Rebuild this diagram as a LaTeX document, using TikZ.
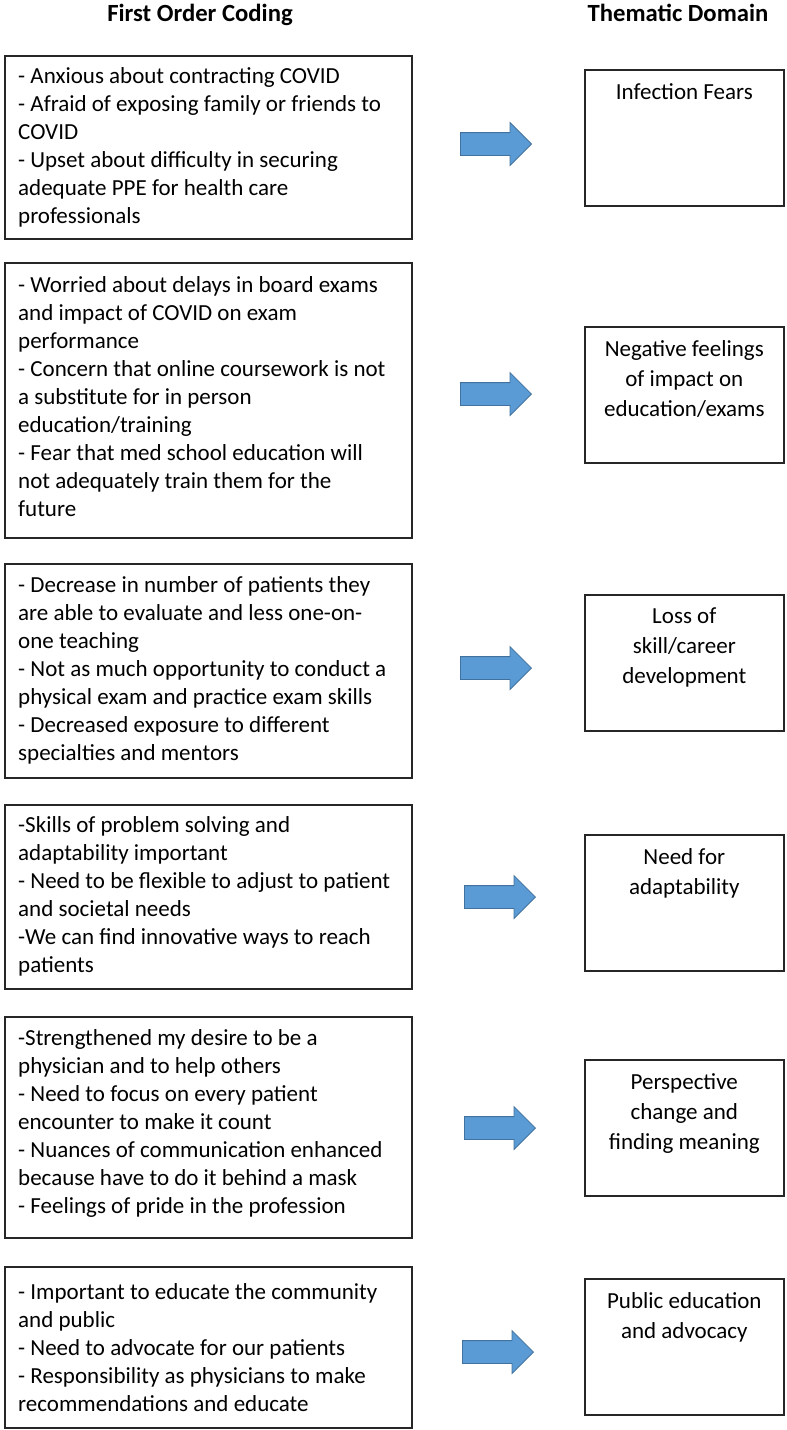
\documentclass[tikz,border=0pt]{standalone}
\usepackage{fontspec}
\setmainfont{Carlito}
\usetikzlibrary{shapes.arrows}
\definecolor{arrowblue}{HTML}{5B9BD5}
\definecolor{arrowedge}{HTML}{41719C}

\begin{document}
\begin{tikzpicture}[x=1pt,y=-1pt,
  heading/.style={anchor=base,font=\fontsize{24.7}{30}\selectfont\bfseries},
  codingbox/.style={draw=black!85,line width=1.6pt,anchor=north west,minimum width=407pt,inner sep=0pt},
  codingtext/.style={anchor=west,inner sep=0pt,align=left,font=\fontsize{23}{28}\selectfont},
  theme/.style={draw=black!85,line width=1.6pt,anchor=north west,minimum width=199pt,minimum height=136pt,inner sep=0pt},
  themetext/.style={anchor=north,inner sep=0pt,align=center,font=\fontsize{23}{30}\selectfont},
  blockarrow/.style={single arrow,anchor=tip,draw=arrowedge,fill=arrowblue,line width=0.8pt,minimum height=71pt,minimum width=42pt,single arrow head extend=10pt,inner xsep=0pt,inner ysep=11pt}]
\useasboundingbox (0,0) rectangle (787,1430);

\node [heading] (h1) at (200,21) {First Order Coding};
\node [heading] (h2) at (678,21) {Thematic Domain};

\node [codingbox,minimum height=183pt] (c1) at (4,55) {};
\node [codingbox,minimum height=275pt] (c2) at (4,262) {};
\node [codingbox,minimum height=214pt] (c3) at (4,563) {};
\node [codingbox,minimum height=184pt] (c4) at (4,804) {};
\node [codingbox,minimum height=221pt] (c5) at (4,1016) {};
\node [codingbox,minimum height=161pt] (c6) at (4,1266) {};

\node [codingtext] (p1) at ([xshift=14pt]c1.west) {- Anxious about contracting COVID\\
- Afraid of exposing family or friends to\\
COVID\\
- Upset about difficulty in securing\\
adequate PPE for health care\\
professionals};
\node [codingtext] (p2) at ([xshift=14pt,yshift=4pt]c2.west) {- Worried about delays in board exams\\
and impact of COVID on exam\\
performance\\
- Concern that online coursework is not\\
a substitute for in person\\
education/training\\
- Fear that med school education will\\
not adequately train them for the\\
future};
\node [codingtext] (p3) at ([xshift=14pt]c3.west) {- Decrease in number of patients they\\
are able to evaluate and less one-on-\\
one teaching\\
- Not as much opportunity to conduct a\\
physical exam and practice exam skills\\
- Decreased exposure to different\\
specialties and mentors};
\node [codingtext] (p4) at ([xshift=14pt]c4.west) {-Skills of problem solving and\\
adaptability important\\
- Need to be flexible to adjust to patient\\
and societal needs\\
-We can find innovative ways to reach\\
patients};
\node [codingtext] (p5) at ([xshift=14pt,yshift=4pt]c5.west) {-Strengthened my desire to be a\\
physician and to help others\\
- Need to focus on every patient\\
encounter to make it count\\
- Nuances of communication enhanced\\
because have to do it behind a mask\\
- Feelings of pride in the profession};
\node [codingtext] (p6) at ([xshift=14pt]c6.west) {- Important to educate the community\\
and public\\
- Need to advocate for our patients\\
- Responsibility as physicians to make\\
recommendations and educate};

\node [theme] (t1) at (584,69) {};
\node [theme] (t2) at (584,326) {};
\node [theme] (t3) at (584,594) {};
\node [theme] (t4) at (584,834) {};
\node [theme] (t5) at (584,1059) {};
\node [theme] (t6) at (584,1278) {};

\node [themetext] (l1) at ([yshift=-14pt]t1.north) {Infection Fears};
\node [themetext] (l2) at ([yshift=-14pt]t2.north) {Negative feelings\\of impact on\\education/exams};
\node [themetext] (l3) at ([yshift=-14pt]t3.north) {Loss of\\skill/career\\development};
\node [themetext] (l4) at ([yshift=-14pt]t4.north) {Need for\\adaptability};
\node [themetext] (l5) at ([yshift=-14pt]t5.north) {Perspective\\change and\\finding meaning};
\node [themetext] (l6) at ([yshift=-14pt]t6.north) {Public education\\and advocacy};

\node [blockarrow] (a1) at (532,144) {};
\node [blockarrow] (a2) at (532,394) {};
\node [blockarrow] (a3) at (532,668) {};
\node [blockarrow] (a4) at (536,897) {};
\node [blockarrow] (a5) at (536,1128) {};
\node [blockarrow] (a6) at (534,1352) {};
\end{tikzpicture}
\end{document}
